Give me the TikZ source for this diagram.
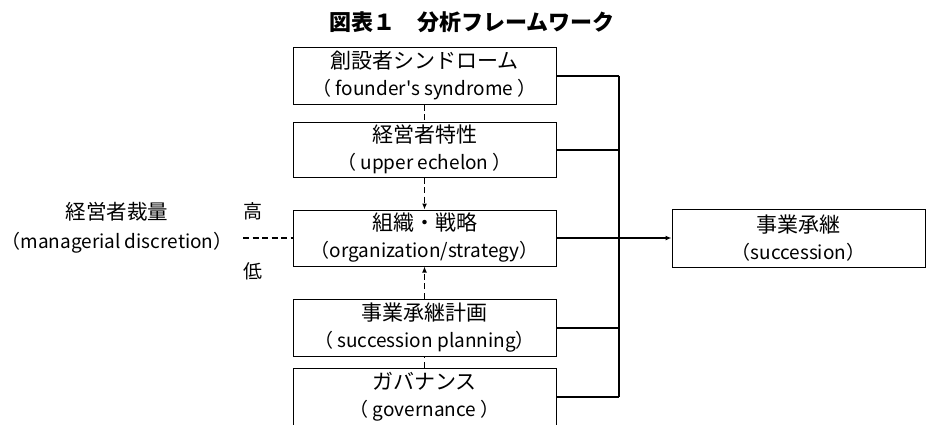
\documentclass[tikz,border=0pt]{standalone}
\usepackage{fontspec}
\setmainfont{Noto Sans CJK JP}[Ligatures=TeXOff]
\usetikzlibrary{arrows.meta}
\newcommand{\jp}{\fontsize{21}{27}\selectfont}
\newcommand{\en}{\fontsize{19}{27}\selectfont}
\begin{document}
\begin{tikzpicture}[x=1pt,y=-1pt,
  box/.style={draw,line width=1pt,minimum width=263pt,minimum height=56pt,inner sep=0pt,align=center,font=\fontsize{19}{27}\selectfont},
  lab/.style={inner sep=0pt,align=center,font=\fontsize{19}{29}\selectfont},
  dline/.style={line width=1.8pt,dash pattern=on 6pt off 3.5pt},
  bus/.style={line width=2.4pt},
  conn/.style={line width=2pt},
  tip/.style={-{Latex[length=6pt,width=5pt]}}]
\useasboundingbox (0,0) rectangle (926,424);
\node[inner sep=0pt,font=\fontsize{22}{24}\selectfont\bfseries] (title) at (472,22) {図表１　分析フレームワーク};
\node[box,minimum height=57pt] (b1) at (424.5,75.5) {{\jp 創設者シンドローム}\\{\en （ founder's syndrome ）}};
\node[box,minimum height=55pt] (b2) at (424.5,149.5) {{\jp 経営者特性}\\{\en （ upper echelon ）}};
\node[box] (b3) at (424.5,238) {{\jp 組織・戦略}\\{\en （organization/strategy）}};
\node[box,minimum height=57pt] (b4) at (424.5,327.5) {{\jp 事業承継計画}\\{\en （ succession planning）}};
\node[box,minimum height=57pt] (b5) at (424.5,396.5) {{\jp ガバナンス}\\{\en （ governance ）}};
\node[box,minimum width=253pt,minimum height=58pt] (s) at (798.5,238) {{\jp 事業承継}\\{\en （succession）}};
\node[lab] (md) at (117,227.5) {{\fontsize{20.5}{29}\selectfont 経営者裁量}\\（managerial discretion）};
\node[lab] (hi) at (253,211) {高};
\node[lab] (lo) at (253,271) {低};
\coordinate (dl) at (243,238);
\coordinate (bt) at (619,0 |- b1.east);
\coordinate (bb) at (619,0 |- b5.east);
% dashed links
\draw[dline] (b1.south) -- (b2.north);
\draw[dline,tip] (b2.south) -- (b3.north);
\draw[dline,tip] (b4.north) -- (b3.south);
\draw[dline] (b5.north) -- (b4.south);
\draw[dline] (dl) -- (b3.west);
% bus
\draw[bus] (bt) -- (bb);
\draw[conn] (b1.east) -- (bt);
\draw[conn] (b2.east) -- (b2.east -| bt);
\draw[conn] (b4.east) -- (b4.east -| bt);
\draw[conn] (b5.east) -- (bb);
\draw[line width=1.8pt,tip] (b3.east) -- (s.west);
\end{tikzpicture}
\end{document}
